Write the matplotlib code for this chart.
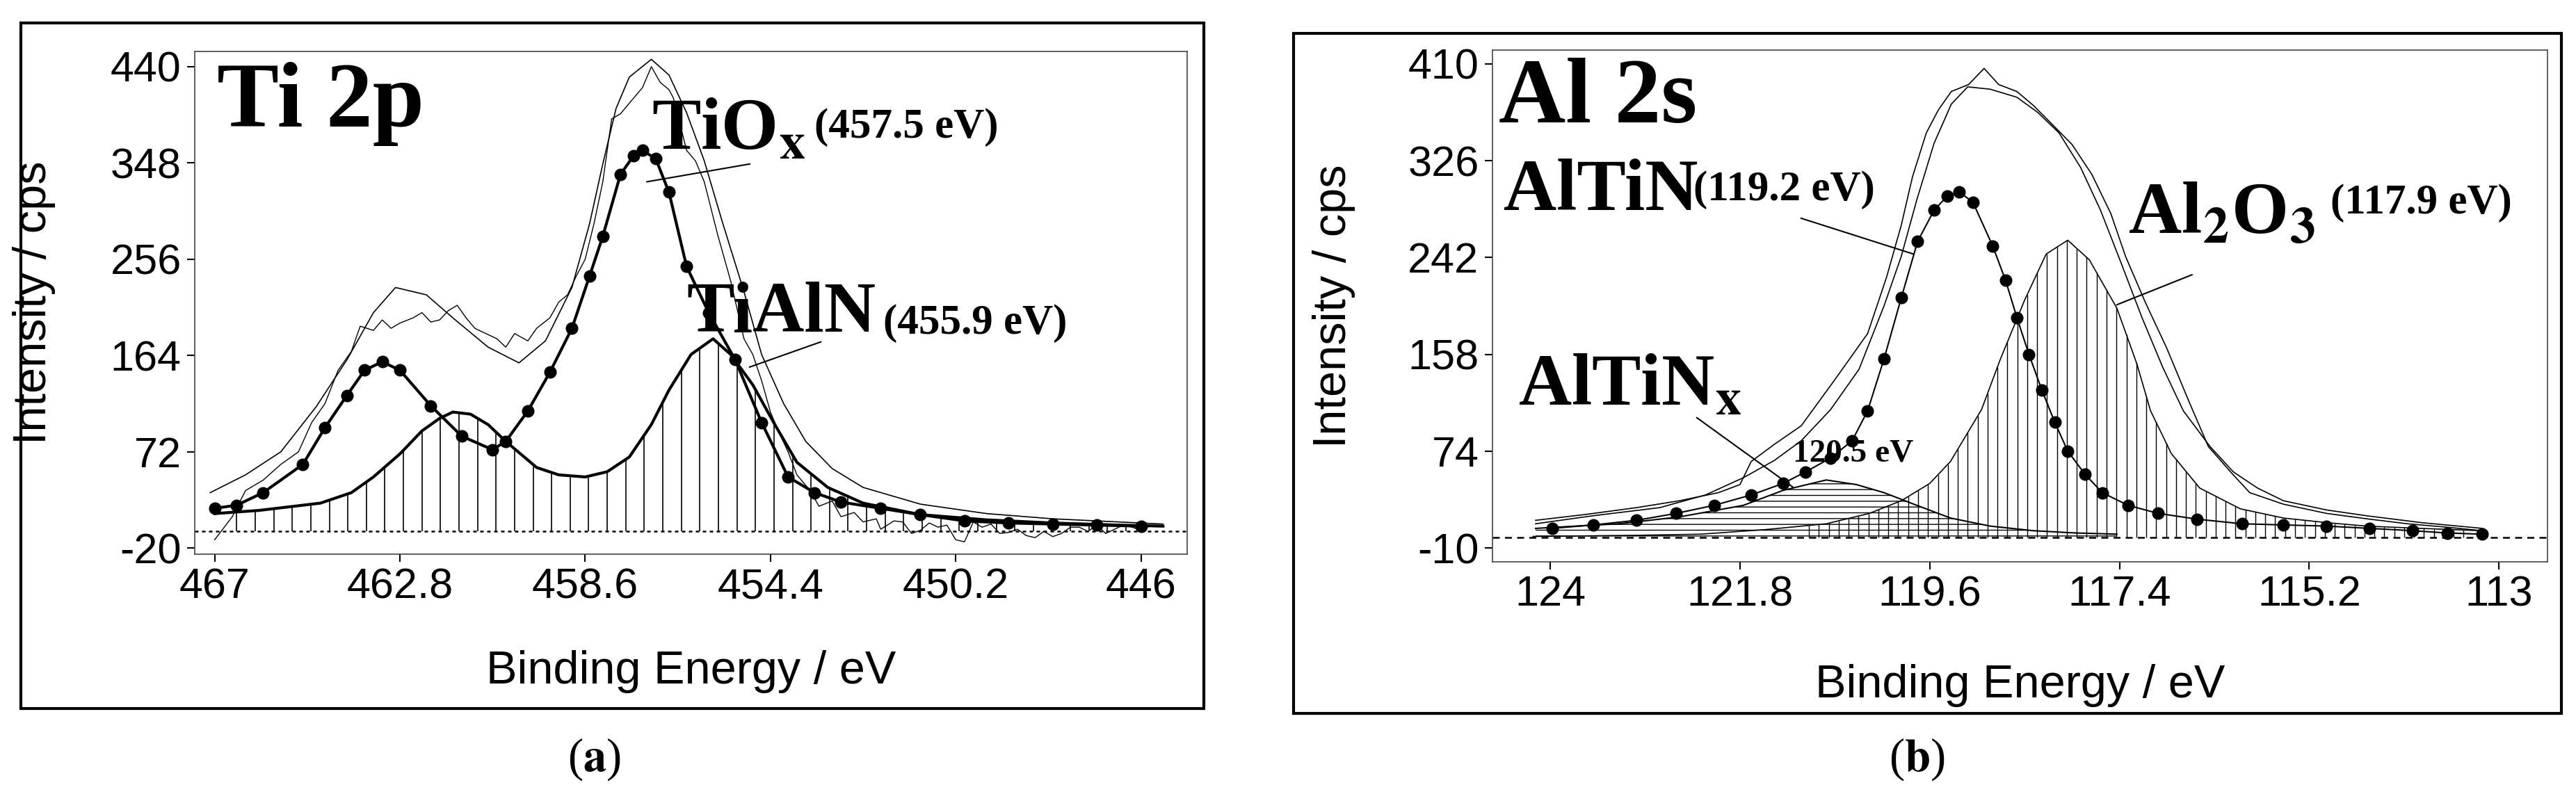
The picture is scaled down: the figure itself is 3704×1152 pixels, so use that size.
import numpy as np
import matplotlib
matplotlib.use("Agg")
import matplotlib.pyplot as plt
from matplotlib.patches import Rectangle

plt.rcParams['mathtext.fontset'] = 'stix'
SANS = ['Liberation Sans Narrow', 'Liberation Sans', 'DejaVu Sans']
SERIF = ['Liberation Serif', 'DejaVu Serif']

# ---------------- Panel (a) Ti 2p ----------------
a_xticks = [467, 462.8, 458.6, 454.4, 450.2, 446]
a_yticks = [-20, 72, 164, 256, 348, 440]
a_base = -4

a_tiox_x = [467.0, 466.5, 465.9, 465.0, 464.5, 464.0, 463.6, 463.2, 462.8, 462.1, 461.4, 460.7, 460.4, 459.9, 459.4, 458.9, 458.5, 458.2, 457.8, 457.5, 457.3, 457.0, 456.7, 456.3, 455.8, 455.2, 454.6, 454.0, 453.4, 452.8, 451.9, 451.0, 450.0, 449.0, 448.0, 447.0, 446.0]
a_tiox_y = [18, 21, 33, 60, 95, 126, 150, 158, 150, 116, 87, 74, 82, 111, 148, 190, 240, 278, 337, 355, 360, 352, 320, 249, 205, 160, 100, 48, 33, 24, 18, 12, 6, 4, 3, 2, 1]

a_tialn_x = [467.0, 466.0, 465.0, 464.6, 463.9, 463.4, 462.8, 462.3, 461.9, 461.6, 461.2, 460.8, 460.4, 459.7, 459.2, 458.6, 458.1, 457.6, 457.1, 456.7, 456.2, 455.7, 455.3, 454.8, 454.3, 453.8, 453.1, 452.3, 451.0, 449.5, 448.0, 446.5, 445.5]
a_tialn_y = [13, 16, 21, 23, 33, 48, 70, 92, 104, 110, 108, 98, 82, 57, 50, 48, 53, 67, 98, 131, 165, 180, 165, 136, 98, 62, 38, 23, 12, 7, 4, 2, 1]

a_env_x = [467.1, 466.3, 465.5, 464.7, 464.0, 463.4, 462.9, 462.2, 461.6, 460.8, 460.1, 459.5, 458.9, 458.5, 458.2, 457.9, 457.6, 457.1, 456.7, 456.3, 455.9, 455.5, 455.0, 454.6, 454.1, 453.6, 453.0, 452.3, 451.0, 449.5, 448.0, 446.5, 445.5]
a_env_y = [33, 50, 72, 115, 160, 205, 229, 222, 200, 172, 157, 178, 229, 290, 347, 400, 430, 447, 432, 396, 350, 293, 225, 165, 118, 82, 56, 38, 22, 13, 8, 5, 3]

a_raw_x = [467.0, 466.6, 466.3, 465.9, 465.5, 465.1, 464.8, 464.5, 464.2, 463.9, 463.7, 463.4, 463.2, 463.0, 462.8, 462.5, 462.3, 462.1, 461.9, 461.7, 461.5, 461.3, 461.1, 460.8, 460.6, 460.4, 460.2, 459.9, 459.7, 459.4, 459.2, 459.0, 458.8, 458.6, 458.4, 458.2, 458.0, 457.8, 457.6, 457.4, 457.3, 457.1, 456.9, 456.7, 456.6, 456.3, 456.1, 455.9, 455.6, 455.3, 455.0, 454.8, 454.6, 454.4, 454.2, 454.0, 453.8, 453.5, 453.3, 453.0, 452.8, 452.5, 452.3, 452.0, 451.9, 451.6, 451.4, 451.2, 451.0, 450.8, 450.6, 450.4, 450.2, 450.0, 449.8, 449.6, 449.4, 449.2, 449.0, 448.8, 448.6, 448.4, 448.2, 448.0, 447.8, 447.6, 447.4, 447.2, 447.0, 446.8, 446.6, 446.4, 446.2, 446.0, 445.8]
a_raw_y = [-12, 10, 35, 45, 60, 72, 100, 118, 150, 168, 192, 188, 198, 190, 195, 200, 205, 196, 198, 207, 212, 200, 190, 184, 180, 172, 185, 178, 190, 200, 215, 222, 240, 256, 290, 330, 390, 395, 405, 415, 420, 440, 425, 418, 410, 360, 350, 330, 280, 235, 180, 165, 140, 110, 90, 72, 50, 35, 20, 25, 10, 14, 5, 8, -2, 6, 5, -6, -3, 4, 0, 2, -12, -14, 5, 0, 3, -6, -5, -2, -8, -10, -4, -9, -6, 0, 0, -4, 2, -6, -2, 2, 0, -3, 1]

# ---------------- Panel (b) Al 2s ----------------
b_xticks = [124, 121.8, 119.6, 117.4, 115.2, 113]
b_yticks = [-10, 74, 158, 242, 326, 410]
b_base = -1

b_al2o3_x = [124.2, 123.0, 122.25, 121.5, 120.8, 120.3, 119.93, 119.6, 119.36, 119.0, 118.78, 118.5, 118.25, 118.0, 117.75, 117.43, 117.2, 117.04, 116.8, 116.47, 116.0, 115.5, 115.0, 114.54, 113.9, 113.2]
b_al2o3_y = [0, 1, 2, 6, 11, 20, 31, 46, 65, 110, 154, 205, 245, 257, 240, 198, 150, 109, 72, 42, 24, 16, 12, 9, 7, 5]

b_altin_x = [123.98, 123.5, 123.0, 122.54, 122.1, 121.67, 121.3, 121.04, 120.75, 120.5, 120.32, 120.13, 119.93, 119.74, 119.55, 119.4, 119.26, 119.1, 118.87, 118.72, 118.59, 118.45, 118.3, 118.15, 118.0, 117.8, 117.6, 117.3, 116.95, 116.5, 115.98, 115.5, 115.0, 114.5, 114.0, 113.6, 113.2]
b_altin_y = [7, 10, 14, 20, 27, 36, 46, 56, 68, 83, 109, 154, 207, 256, 283, 295, 299, 290, 252, 222, 190, 158, 127, 99, 74, 54, 38, 27, 20, 15, 11, 10, 9, 7, 5, 3, 2]

b_altinx_x = [124.17, 123.7, 123.2, 122.5, 121.76, 121.3, 120.8, 120.45, 120.13, 119.75, 119.36, 118.9, 118.4, 117.9, 117.43]
b_altinx_y = [7, 9, 11, 17, 27, 40, 49, 45, 38, 27, 16, 9, 5, 3, 2]

b_env_x = [124.17, 123.5, 122.73, 122.2, 121.76, 121.4, 121.09, 120.75, 120.42, 120.13, 119.93, 119.75, 119.55, 119.35, 119.16, 118.9, 118.59, 118.35, 118.1, 117.85, 117.62, 117.38, 117.14, 116.9, 116.66, 116.35, 116.08, 115.8, 115.5, 115.0, 114.54, 113.9, 113.19]
b_env_y = [11, 18, 25, 36, 51, 66, 83, 110, 145, 200, 243, 292, 341, 375, 390, 388, 381, 368, 350, 320, 283, 237, 190, 147, 109, 78, 56, 42, 31, 23, 18, 12, 7]

b_raw_x = [124.17, 123.6, 123.0, 122.5, 122.05, 121.8, 121.67, 121.4, 121.09, 120.7, 120.32, 120.1, 119.93, 119.8, 119.64, 119.5, 119.35, 119.15, 118.97, 118.8, 118.59, 118.4, 118.2, 117.95, 117.72, 117.5, 117.33, 117.1, 116.85, 116.6, 116.37, 116.1, 115.89, 115.5, 115.0, 114.5, 114.06, 113.6, 113.2]
b_raw_y = [14, 19, 25, 31, 38, 45, 65, 80, 96, 136, 176, 225, 270, 312, 350, 370, 386, 392, 406, 392, 386, 374, 359, 340, 314, 280, 243, 203, 163, 118, 78, 55, 38, 28, 20, 15, 11, 8, 5]

fig = plt.figure(figsize=(37.05, 11.52), dpi=100)

for (x0, y0, w, h) in [(0.0081, 0.1155, 0.459, 0.856), (0.502, 0.1094, 0.492, 0.849)]:
    fig.add_artist(Rectangle((x0, y0), w, h, transform=fig.transFigure, fill=False, lw=3, ec='black'))

TICKFS = 44
LABFS = 48


def style_axes(ax, xticks, yticks, xlim, ylim):
    ax.set_xlim(*xlim)
    ax.set_ylim(*ylim)
    ax.set_xticks(xticks)
    ax.set_yticks(yticks)
    ax.set_xticklabels([f"{t:g}" for t in xticks], family=SANS, fontsize=TICKFS)
    ax.set_yticklabels([f"{t:g}" for t in yticks], family=SANS, fontsize=TICKFS)
    ax.tick_params(axis='both', direction='out', length=8, width=1.5, pad=6)
    for s in ax.spines.values():
        s.set_linewidth(1.2)
        s.set_color('#444444')
    ax.set_ylabel('Intensity / cps', family=SANS, fontsize=LABFS)
    ax.set_xlabel('Binding Energy / eV', family=SANS, fontsize=LABFS)


BIG = dict(family=SERIF, fontweight='bold', va='baseline', ha='left')

# ---- (a)
ax = fig.add_axes([0.0756, 0.308, 0.385, 0.628])
style_axes(ax, a_xticks, a_yticks, (467.45, 444.96), (-25.9, 454.7))
ax.axhline(a_base, color='black', lw=1.8, ls=(0, (2, 2)))
hx = np.arange(466.5, 445.5, -0.42)
ax.vlines(hx, a_base, np.interp(hx, a_tialn_x[::-1], a_tialn_y[::-1]), color='black', lw=1.2)
ax.plot(a_tialn_x, a_tialn_y, color='black', lw=3)
ax.plot(a_env_x, a_env_y, color='black', lw=1.2)
ax.plot(a_raw_x, a_raw_y, color='black', lw=1.0)
ax.plot(a_tiox_x, a_tiox_y, color='black', lw=3, marker='o', ms=12)
ax.plot([457.2, 454.87], [330, 347], color='black', lw=1.5)
ax.plot([454.87, 453.26], [153, 177], color='black', lw=1.5)
ax.text(466.95, 383, 'Ti 2p', fontsize=96, **BIG)
ax.text(457.1, 361, r'TiO$_\mathbf{x}$', fontsize=76, **BIG)
ax.text(453.4, 372, '(457.5 eV)', fontsize=44, **BIG)
ax.text(456.3, 187, 'TiAlN', fontsize=74, **BIG)
ax.text(451.85, 185, '(455.9 eV)', fontsize=44, **BIG)
ax.yaxis.set_label_coords(-0.14, 0.5)
ax.xaxis.set_label_coords(0.5, -0.19)

# ---- (b)
bx = fig.add_axes([0.5792, 0.2986, 0.4094, 0.639])
style_axes(bx, b_xticks, b_yticks, (124.67, 112.44), (-22, 422))
bx.axhline(b_base, color='black', lw=1.8, ls=(0, (4, 3)))
hx2 = np.arange(121.0, 113.4, -0.115)
bx.vlines(hx2, b_base, np.interp(hx2, b_al2o3_x[::-1], b_al2o3_y[::-1]), color='black', lw=1.0)
bx.fill_between(b_altinx_x, b_base, b_altinx_y, facecolor='none', edgecolor='black', hatch='--', lw=0)
bx.plot(b_al2o3_x, b_al2o3_y, color='black', lw=1.2)
bx.plot(b_altinx_x, b_altinx_y, color='black', lw=1.5)
bx.plot(b_env_x, b_env_y, color='black', lw=1.2)
bx.plot(b_raw_x, b_raw_y, color='black', lw=1.2)
bx.plot(b_altin_x, b_altin_y, color='black', lw=1.5, marker='o', ms=12)
bx.plot([121.09, 119.79], [276, 245], color='black', lw=1.5)
bx.plot([117.43, 116.56], [201, 227], color='black', lw=1.5)
bx.plot([122.3, 121.19], [103, 43], color='black', lw=1.5)
bx.text(124.6, 359, 'Al 2s', fontsize=96, **BIG)
bx.text(124.54, 283, 'AlTiN', fontsize=76, **BIG)
bx.text(122.34, 292, '(119.2 eV)', fontsize=44, **BIG)
bx.text(117.3, 263, r'Al$_\mathbf{2}$O$_\mathbf{3}$', fontsize=76, **BIG)
bx.text(114.95, 280, '(117.9 eV)', fontsize=44, **BIG)
bx.text(124.37, 114, r'AlTiN$_\mathbf{x}$', fontsize=76, **BIG)
bx.text(121.19, 65, '120.5 eV', fontsize=34, **BIG)
bx.yaxis.set_label_coords(-0.13, 0.5)
bx.xaxis.set_label_coords(0.5, -0.2)

fig.text(0.2305, 0.052, r'($\mathbf{a}$)', family=SERIF, fontsize=48, ha='center', va='center')
fig.text(0.744, 0.052, r'($\mathbf{b}$)', family=SERIF, fontsize=48, ha='center', va='center')

fig.savefig('out.png', dpi=100)
